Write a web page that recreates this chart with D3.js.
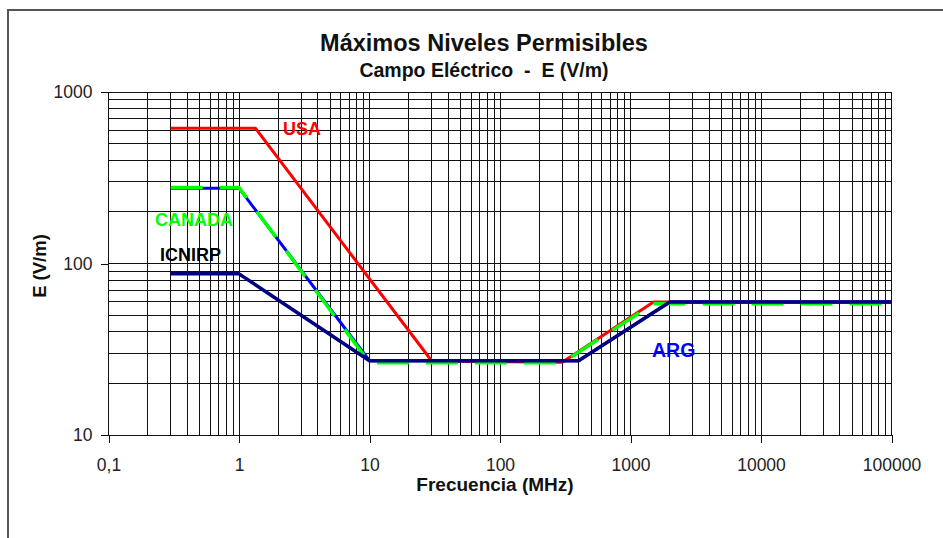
<!DOCTYPE html>
<html>
<head>
<meta charset="utf-8">
<script src="https://cdn.jsdelivr.net/npm/d3@7"></script>
<style>
  html, body { margin: 0; padding: 0; background: #fff; }
  svg { display: block; font-family: Arial, "Liberation Sans", sans-serif; }
</style>
</head>
<body>
<svg id="chart" width="943" height="538"></svg>
<script>
// Frequency axis (MHz) and field axis (V/m) ticks
const freqTicks = [0.1, 1, 10, 100, 1000, 10000, 100000];
const freqTickLabels = ["0,1", "1", "10", "100", "1000", "10000", "100000"];
const fieldTicks = [10, 100, 1000];
const fieldTickLabels = ["10", "100", "1000"];

// Maximum permissible electric field per standard
const usaFreq = [0.3, 1.34, 30, 300, 1500, 100000];
const usaField = [614, 614, 27, 26.6, 59.6, 59.6];

const argFreq = [0.3, 1, 10, 400, 2000, 100000];
const argField = [275, 275, 27.1, 27.1, 59.6, 59.6];

const canadaFreq = [0.3, 1, 10, 300, 1500, 100000];
const canadaField = [277, 277, 26.4, 26.4, 58.2, 58.2];

const icnirpFreq = [0.3, 1, 10, 400, 2000, 100000];
const icnirpField = [87, 87, 27.1, 27.1, 59.6, 59.6];

const seriesNames = ["USA", "ARG", "CANADA", "ICNIRP"];

const svg = d3.select("#chart");

// outer frame (top and left edges)
svg.append("path")
  .attr("d", "M8,538 L8,10 L943,10")
  .attr("fill", "none")
  .attr("stroke", "#555")
  .attr("stroke-width", 2);

const plot = { left: 108.5, right: 891.5, top: 92, bottom: 435 };

const x = d3.scaleLog().domain([0.1, 100000]).range([plot.left, plot.right]);
const y = d3.scaleLog().domain([10, 1000]).range([plot.bottom, plot.top]);

// minor + major gridlines (1..9 per decade)
const xGrid = [];
for (let d = 0.1; d < 100000; d *= 10) for (let k = 1; k <= 9; k++) xGrid.push(+(d * k).toPrecision(6));
xGrid.push(100000);
const yGrid = [];
for (let d = 10; d < 1000; d *= 10) for (let k = 1; k <= 9; k++) yGrid.push(d * k);
yGrid.push(1000);

const grid = svg.append("g").attr("stroke", "#111").attr("stroke-width", 1).attr("shape-rendering", "crispEdges");
grid.selectAll("line.v").data(xGrid).join("line").attr("class", "v")
  .attr("x1", d => x(d)).attr("x2", d => x(d))
  .attr("y1", plot.top).attr("y2", plot.bottom);
grid.selectAll("line.h").data(yGrid).join("line").attr("class", "h")
  .attr("x1", plot.left).attr("x2", plot.right)
  .attr("y1", d => y(d)).attr("y2", d => y(d));

// axes with major ticks only
const xAxis = d3.axisBottom(x).tickValues(freqTicks)
  .tickFormat((d, i) => freqTickLabels[i]).tickSize(8).tickSizeOuter(0).tickPadding(16);
const yAxis = d3.axisLeft(y).tickValues(fieldTicks)
  .tickFormat((d, i) => fieldTickLabels[i]).tickSize(8).tickSizeOuter(0).tickPadding(8);

const gx = svg.append("g").attr("transform", `translate(0,${plot.bottom})`).call(xAxis);
const gy = svg.append("g").attr("transform", `translate(${plot.left},0)`).call(yAxis);
[gx, gy].forEach(g => {
  g.select(".domain").remove();
  g.selectAll(".tick line").attr("stroke", "#111").attr("shape-rendering", "crispEdges");
  g.selectAll(".tick text").attr("fill", "#222").attr("font-size", "17.5px")
    .attr("font-family", "Arial, 'Liberation Sans', sans-serif");
});
gx.selectAll(".tick text").attr("dy", "0.71em");
gy.selectAll(".tick text").attr("dy", "0.34em");

// series lines
const line = d3.line().x(d => x(d[0])).y(d => y(d[1]));
const zip = (a, b) => a.map((v, i) => [v, b[i]]);

const series = [
  { name: seriesNames[0], pts: zip(usaFreq, usaField), color: "#ff0000", width: 3, dash: null },
  { name: seriesNames[1], pts: zip(argFreq, argField), color: "#0000ff", width: 3, dash: null },
  { name: seriesNames[2], pts: zip(canadaFreq, canadaField), color: "#00ff00", width: 3.5, dash: "32,17" },
  { name: seriesNames[3], pts: zip(icnirpFreq, icnirpField), color: "#000080", width: 3.5, dash: null }
];

svg.append("g").selectAll("path").data(series).join("path")
  .attr("d", d => line(d.pts))
  .attr("fill", "none")
  .attr("stroke", d => d.color)
  .attr("stroke-width", d => d.width)
  .attr("stroke-linejoin", "round")
  .attr("stroke-dasharray", d => d.dash);

// series labels placed in data coordinates
const labels = [
  { text: seriesNames[0], f: 2.17, e: 561, color: "#ff0000", size: 18 },
  { text: seriesNames[2], f: 0.227, e: 166, color: "#00ff00", size: 18 },
  { text: seriesNames[3], f: 0.248, e: 104, color: "#000000", size: 18 },
  { text: seriesNames[1], f: 1462, e: 28.5, color: "#0000ff", size: 19.5 }
];
svg.append("g").selectAll("text").data(labels).join("text")
  .attr("x", d => x(d.f)).attr("y", d => y(d.e))
  .attr("fill", d => d.color)
  .attr("font-size", d => d.size + "px").attr("font-weight", "bold")
  .text(d => d.text);

// titles
svg.append("text").attr("x", 484).attr("y", 51)
  .attr("text-anchor", "middle").attr("font-size", "23.5px").attr("font-weight", "bold").attr("fill", "#111")
  .text("Máximos Niveles Permisibles");
svg.append("text").attr("x", 484).attr("y", 77)
  .attr("text-anchor", "middle").attr("font-size", "19.5px").attr("font-weight", "bold").attr("fill", "#111")
  .style("white-space", "pre")
  .text("Campo Eléctrico  -  E (V/m)");
svg.append("text").attr("x", 495).attr("y", 491)
  .attr("text-anchor", "middle").attr("font-size", "19px").attr("font-weight", "bold").attr("fill", "#111")
  .text("Frecuencia (MHz)");
svg.append("text").attr("transform", "translate(46,266) rotate(-90)")
  .attr("text-anchor", "middle").attr("font-size", "18.5px").attr("font-weight", "bold").attr("fill", "#111")
  .text("E (V/m)");
</script>
</body>
</html>
